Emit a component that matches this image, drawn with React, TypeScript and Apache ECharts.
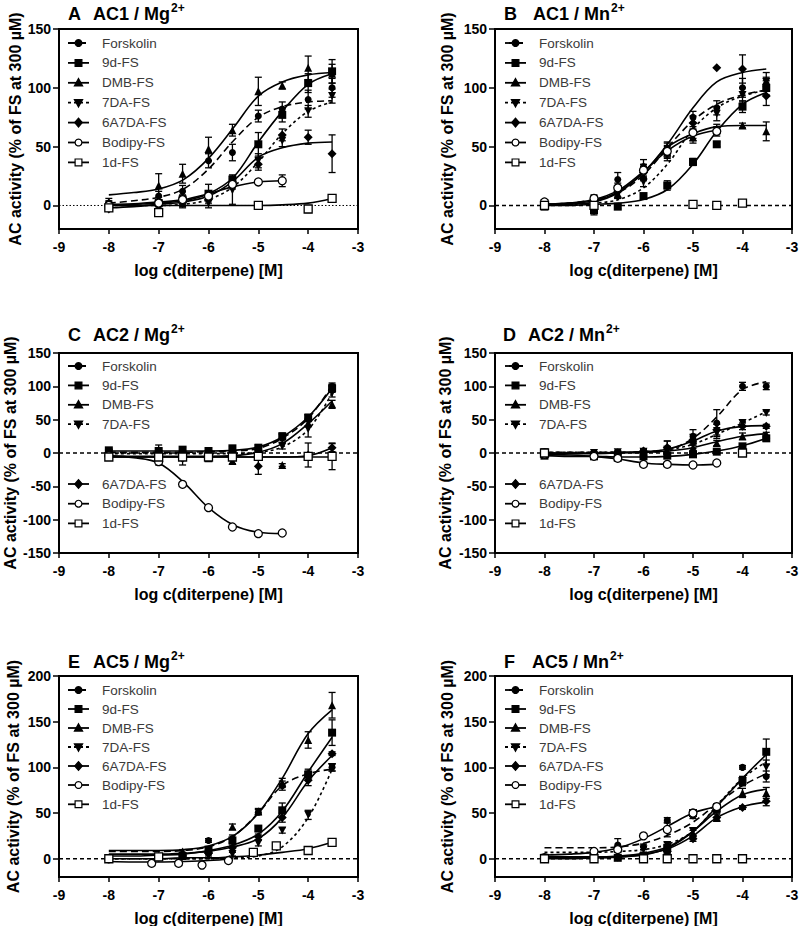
import React, { useEffect, useRef } from 'react';
import * as echarts from 'echarts';

const FONT = '"Liberation Sans", Arial, Helvetica, sans-serif';

const NAMES = ['Forskolin', '9d-FS', 'DMB-FS', '7DA-FS', '6A7DA-FS', 'Bodipy-FS', '1d-FS'];
const X = [-8, -7, -6.52, -6, -5.52, -5, -4.52, -4, -3.52];
const CX = [-8, -7.5, -7, -6.5, -6, -5.5, -5, -4.52, -4, -3.52];
const X_E_BODIPY = [-8, -7.14, -6.6, -6.13, -5.6];
const X_E_1D = [-8, -7, -5.1, -4.64, -4, -3.52];
const X_LABEL = 'log c(diterpene) [M]';
const Y_LABEL = 'AC activity (% of FS at 300 µM)';
const Y_TICKS_AB = [0, 50, 100, 150];
const Y_TICKS_CD = [-150, -100, -50, 0, 50, 100, 150];
const Y_TICKS_EF = [0, 50, 100, 150, 200];

type Arr = (number | null)[];
const N: Arr = [null, null, null, null, null, null, null, null, null, null];

// Panel A  AC1 / Mg2+
const ptsA: Arr[] = [
  [2, 8, 12, 38, 45, 76, 82, 90, 100],
  [-2, 2, 5, 10, 22, 52, 77, 104, 114],
  [3, 17, 27, 48, 64, 97, 102, 117, 112],
  [0, -1, 2, 2, 13, 38, 55, 80, 93],
  [-3, 0, 3, 5, 20, 35, 60, 58, 44],
  [0, 2, 5, 8, 18, 20, 21, null, null],
  [-2, -6, null, null, null, 0, null, -3, 6],
];
const errA: number[][] = [
  [2, 4, 5, 6, 7, 5, 6, 8, 8],
  [2, 3, 4, 8, 4, 10, 6, 8, 10],
  [3, 10, 8, 10, 5, 12, 3, 10, 8],
  [2, 3, 3, 4, 12, 6, 5, 5, 6],
  [2, 4, 5, 5, 3, 5, 5, 6, 16],
  [2, 3, 3, 4, 4, 2, 5, 0, 0],
  [2, 3, 0, 0, 0, 1, 0, 3, 1],
];
const crvA: Arr[] = [
  [2, 4, 7, 14, 31, 55, 75, 84, 88, 89],
  [0, 1, 2, 4, 10, 24, 54, 80, 103, 112],
  [9, 11, 14, 22, 40, 66, 93, 105, 111, 113],
  [0, 0, 0, 1, 5, 16, 37, 61, 80, 88],
  [-2, -1, 1, 3, 8, 21, 41, 49, 53, 54],
  [1, 1.5, 3, 5, 10, 16, 20, 21, null, null],
  [0, 0, 0, 0, 0, 0, 0, 0.5, 2, 6],
];

// Panel B  AC1 / Mn2+
const ptsB: Arr[] = [
  [2, 5, 22, 33, 48, 75, 83, 100, 103],
  [-1, -4, -1, 8, 17, 37, 52, 84, 100],
  [1, 5, 10, 25, 45, 58, 65, 68, 63],
  [2, 3, 10, 20, 43, 60, 78, 94, 105],
  [1, 3, 12, 28, 48, 70, 117, 116, 93],
  [3, 6, 15, 30, 46, 62, 63, null, null],
  [0, 0, null, null, null, 1, 0, 2, null],
];
const errB: number[][] = [
  [2, 3, 6, 6, 6, 5, 6, 8, 6],
  [2, 4, 2, 2, 4, 3, 2, 5, 6],
  [2, 3, 4, 4, 5, 5, 4, 2, 8],
  [2, 3, 4, 4, 5, 5, 6, 6, 8],
  [2, 3, 5, 5, 5, 6, 0, 12, 8],
  [2, 3, 4, 5, 5, 5, 4, 0, 0],
  [0, 0, 0, 0, 0, 0, 0, 0, 0],
];
const crvB: Arr[] = [
  [1, 2, 5, 11, 26, 50, 72, 86, 94, 98],
  [0, 0, 1, 2, 5, 14, 35, 63, 86, 96],
  [1, 2, 4, 12, 28, 50, 61, 67, 68, 68],
  [1, 1, 2, 5, 15, 36, 65, 83, 93, 98],
  [0, 1, 3, 11, 28, 53, 83, 105, 113, 116],
  [1, 2, 5, 13, 29, 47, 59, 64, null, null],
  N,
];

// Panel C  AC2 / Mg2+
const ptsC: Arr[] = [
  [2, 0, 1, 2, 3, 5, 22, 52, 100],
  [4, 3, 5, 3, 7, 8, 25, 53, 97],
  [-3, -5, -5, -8, -12, -3, -18, 45, 73],
  [0, -2, -3, -2, -2, -1, 10, 36, 90],
  [-5, -3, -8, -6, -7, -20, null, -3, 8],
  [-4, -13, -47, -82, -111, -121, -120, null, null],
  [-6, -6, -6, -6, -6, -5, null, -5, -5],
];
const errC: number[][] = [
  [3, 3, 3, 3, 3, 4, 6, 5, 5],
  [3, 3, 3, 3, 3, 4, 5, 5, 6],
  [3, 4, 4, 4, 4, 5, 2, 6, 6],
  [3, 3, 3, 3, 3, 3, 4, 12, 6],
  [3, 15, 10, 6, 3, 12, 0, 18, 6],
  [0, 0, 0, 0, 0, 0, 0, 0, 0],
  [2, 2, 2, 2, 2, 2, 0, 3, 20],
];
const crvC: Arr[] = [
  [1, 1, 1, 1, 2, 3, 7, 22, 52, 101],
  [3, 3, 3, 3, 3, 4, 9, 24, 54, 97],
  [-5, -5, -5, -5, -5, -4, 1, 14, 44, 78],
  [-1, -1, -1, -1, -1, -1, 1, 9, 35, 90],
  [-6, -6, -6, -6, -6, -6, -6, -6, -4, 8],
  [-4, -7, -15, -44, -82, -108, -119, -121, null, null],
  [-6, -6, -6, -6, -6, -6, -6, -6, -6, -6],
];

// Panel D  AC2 / Mn2+
const ptsD: Arr[] = [
  [2, 0, 1, 3, 8, 25, 45, 100, 100],
  [-4, -5, -7, -5, -4, -2, 2, 10, 22],
  [-1, -2, 0, 2, 3, 8, 15, 25, 28],
  [1, 0, 1, 2, 5, 12, 30, 45, 60],
  [0, -1, 0, 3, 8, 20, 35, 40, 40],
  [-2, -5, -8, -17, -17, -18, -15, null, null],
  [0, null, null, null, null, null, null, 0, null],
];
const errD: number[][] = [
  [2, 2, 2, 3, 10, 10, 20, 6, 5],
  [2, 2, 2, 2, 2, 2, 2, 3, 3],
  [2, 2, 2, 2, 3, 4, 4, 5, 3],
  [2, 2, 2, 3, 4, 5, 8, 5, 3],
  [2, 2, 2, 3, 10, 8, 8, 5, 3],
  [0, 0, 0, 0, 0, 0, 0, 0, 0],
  [0, 0, 0, 0, 0, 0, 0, 0, 0],
];
const crvD: Arr[] = [
  [1, 1, 1, 1, 1, 5, 22, 54, 95, 107],
  [-4, -5, -5, -6, -6, -5, -2, 3, 11, 22],
  [-1, -1, -1, 0, 1, 3, 8, 17, 25, 29],
  [1, 1, 1, 1, 2, 5, 13, 28, 45, 62],
  [0, 0, 0, 1, 2, 6, 18, 33, 40, 41],
  [-2, -3, -5, -9, -15, -17, -18, -17, null, null],
  N,
];

// Panel E  AC5 / Mg2+
const ptsE: Arr[] = [
  [1, 2, 5, 20, 22, 51, 80, 93, 100],
  [0, 2, 3, 10, 20, 33, 53, 92, 138],
  [1, 3, 8, 10, 35, 52, 83, 130, 168],
  [0, 1, 2, 3, 5, 17, 31, 48, 100],
  [0, 2, 3, 6, 12, 24, 45, 86, 115],
  [0, -5, -5, -7, -2],
  [0, 2, 7, 14, 9, 18],
];
const errE: number[][] = [
  [2, 2, 2, 2, 4, 3, 5, 3, 4],
  [2, 2, 2, 2, 3, 3, 8, 6, 14],
  [2, 2, 2, 3, 3, 3, 5, 9, 14],
  [2, 2, 2, 2, 2, 3, 3, 5, 4],
  [2, 2, 2, 3, 3, 3, 5, 6, 2],
  [0, 0, 0, 0, 0],
  [0, 0, 0, 0, 0, 2],
];
const crvE: Arr[] = [
  [8, 8, 8, 9, 13, 25, 50, 80, 93, 98],
  [3, 3, 4, 5, 9, 15, 27, 52, 95, 133],
  [9, 9, 9, 10, 14, 25, 50, 88, 137, 163],
  [0, 0, 0, 0, 0, 1, 3, 13, 45, 98],
  [5, 5, 5, 6, 8, 13, 22, 45, 85, 113],
  [-3, -3.5, -3.5, -3, -2, 0, null, null, null, null],
  [0, 0, 0, 1, 1, 2, 4, 7, 11, 18],
];

// Panel F  AC5 / Mn2+
const ptsF: Arr[] = [
  [1, 2, 15, 13, 42, 47, 57, 100, 90],
  [0, 1, 1, 3, 12, 50, 55, 85, 117],
  [1, 2, 5, 5, 10, 28, 45, 72, 72],
  [1, 2, 10, 10, 15, 30, 55, 85, 100],
  [0, 0, 2, 3, 8, 22, 45, 56, 63],
  [1, 8, 10, 25, 32, 50, 57, null, null],
  [0, 0, null, 0, 0, 0, 0, 0, null],
];
const errF: number[][] = [
  [2, 2, 7, 3, 3, 3, 3, 2, 6],
  [2, 2, 2, 2, 2, 3, 4, 5, 14],
  [2, 2, 2, 2, 3, 3, 4, 5, 6],
  [2, 2, 3, 3, 3, 4, 4, 5, 8],
  [2, 2, 2, 2, 2, 3, 4, 2, 5],
  [1, 2, 2, 2, 8, 3, 3, 0, 0],
  [0, 0, 0, 0, 0, 0, 0, 0, 0],
];
const crvF: Arr[] = [
  [12, 12, 12, 13, 17, 26, 40, 60, 80, 93],
  [0, 0, 1, 2, 4, 12, 30, 57, 88, 114],
  [2, 2, 2, 3, 6, 13, 30, 52, 70, 76],
  [7, 7, 7, 8, 10, 16, 30, 58, 88, 106],
  [1, 1, 1, 2, 5, 11, 25, 45, 57, 62],
  [4, 5, 7, 12, 22, 36, 50, 57, null, null],
  N,
];

const PTS = [ptsA, ptsB, ptsC, ptsD, ptsE, ptsF];
const ERR = [errA, errB, errC, errD, errE, errF];
const CRV = [crvA, crvB, crvC, crvD, crvE, crvF];
const XS_E = [X, X, X, X, X, X_E_BODIPY, X_E_1D];

// layout / styling
const ROWS_AB = [43, 62.9, 82.8, 102.7, 122.6, 142.5, 162.4];
const ROWS_CD = [366, 385.4, 404.8, 424.2, 484, 503.7, 523.4];
const ROWS_EF = [690, 709, 728, 747, 766, 785, 804.3];

const PANELS = [
  { letter: 'A', title: 'AC1 / Mg', grid: { left: 59, top: 29, width: 299, height: 200 }, yMin: -20, yMax: 150, ticks: Y_TICKS_AB, zeroDotted: true, lx: 68, rows: ROWS_AB, tx: [68, 93], ty: 14, nameGap: 36 },
  { letter: 'B', title: 'AC1 / Mn', grid: { left: 495, top: 29, width: 297, height: 200 }, yMin: -20, yMax: 150, ticks: Y_TICKS_AB, zeroDotted: false, lx: 505, rows: ROWS_AB, tx: [504, 533], ty: 14, nameGap: 40 },
  { letter: 'C', title: 'AC2 / Mg', grid: { left: 59, top: 353, width: 299, height: 200 }, yMin: -150, yMax: 150, ticks: Y_TICKS_CD, zeroDotted: false, lx: 68, rows: ROWS_CD, tx: [68, 93], ty: 335, nameGap: 41 },
  { letter: 'D', title: 'AC2 / Mn', grid: { left: 495, top: 353, width: 297, height: 200 }, yMin: -150, yMax: 150, ticks: Y_TICKS_CD, zeroDotted: false, lx: 505, rows: ROWS_CD, tx: [503, 528], ty: 335, nameGap: 42 },
  { letter: 'E', title: 'AC5 / Mg', grid: { left: 59, top: 676, width: 299, height: 201 }, yMin: -20, yMax: 200, ticks: Y_TICKS_EF, zeroDotted: false, lx: 68, rows: ROWS_EF, tx: [68, 93], ty: 662, nameGap: 38 },
  { letter: 'F', title: 'AC5 / Mn', grid: { left: 495, top: 676, width: 297, height: 201 }, yMin: -20, yMax: 200, ticks: Y_TICKS_EF, zeroDotted: false, lx: 505, rows: ROWS_EF, tx: [504, 532], ty: 662, nameGap: 40 },
];

const STYLES = [
  { symbol: 'circle', size: 7, fill: '#000', rotate: 0, dash: [7, 4] as any, shape: 'circle' },
  { symbol: 'rect', size: 8, fill: '#000', rotate: 0, dash: 'solid' as any, shape: 'rect' },
  { symbol: 'triangle', size: 8, fill: '#000', rotate: 0, dash: 'solid' as any, shape: 'tri' },
  { symbol: 'triangle', size: 8, fill: '#000', rotate: 180, dash: [3, 3] as any, shape: 'tridown' },
  { symbol: 'diamond', size: 9, fill: '#000', rotate: 0, dash: 'solid' as any, shape: 'diamond' },
  { symbol: 'circle', size: 8, fill: '#fff', rotate: 0, dash: 'solid' as any, shape: 'circle' },
  { symbol: 'rect', size: 8, fill: '#fff', rotate: 0, dash: 'solid' as any, shape: 'rect' },
];

function renderErr(params: any, api: any) {
  const x = api.value(0);
  const y = api.value(1);
  const e = api.value(2);
  const top = api.coord([x, y + e]);
  const bot = api.coord([x, y - e]);
  const c = 3.5;
  const st = { stroke: '#000', lineWidth: 1.3 };
  return {
    type: 'group',
    children: [
      { type: 'line', shape: { x1: top[0], y1: top[1], x2: bot[0], y2: bot[1] }, style: st },
      { type: 'line', shape: { x1: top[0] - c, y1: top[1], x2: top[0] + c, y2: top[1] }, style: st },
      { type: 'line', shape: { x1: bot[0] - c, y1: bot[1], x2: bot[0] + c, y2: bot[1] }, style: st },
    ],
  };
}

function legendSymbol(shape: string, cx: number, cy: number, fill: string) {
  const style = { fill, stroke: '#000', lineWidth: 1.2 };
  if (shape === 'circle') return { type: 'circle', shape: { cx, cy, r: 3.4 }, style };
  if (shape === 'rect') return { type: 'rect', shape: { x: cx - 3.4, y: cy - 3.4, width: 6.8, height: 6.8 }, style };
  if (shape === 'tri') return { type: 'polygon', shape: { points: [[cx, cy - 4.3], [cx + 4.1, cy + 3.1], [cx - 4.1, cy + 3.1]] }, style };
  if (shape === 'tridown') return { type: 'polygon', shape: { points: [[cx, cy + 4.3], [cx + 4.1, cy - 3.1], [cx - 4.1, cy - 3.1]] }, style };
  return { type: 'polygon', shape: { points: [[cx, cy - 4.4], [cx + 3.8, cy], [cx, cy + 4.4], [cx - 3.8, cy]] }, style };
}

function buildOption() {
  const grid: any[] = [];
  const xAxis: any[] = [];
  const yAxis: any[] = [];
  const series: any[] = [];
  const graphic: any[] = [];

  PANELS.forEach((p, i) => {
    grid.push({ ...p.grid, show: true, borderColor: '#000', borderWidth: 2, backgroundColor: 'transparent', containLabel: false, outerBoundsMode: 'none' });
    xAxis.push({
      type: 'value', gridIndex: i, min: -9, max: -3, interval: 1,
      name: X_LABEL, nameLocation: 'middle', nameGap: 33,
      nameTextStyle: { fontSize: 16, fontWeight: 'bold', color: '#000', fontFamily: FONT },
      axisLine: { show: true, onZero: false, lineStyle: { color: '#000', width: 2 } },
      axisTick: { show: true, length: 5, lineStyle: { color: '#000', width: 1.5 } },
      axisLabel: { fontSize: 14, fontWeight: 'bold', color: '#000', margin: 11, fontFamily: FONT },
      splitLine: { show: false },
    });
    yAxis.push({
      type: 'value', gridIndex: i, min: p.yMin, max: p.yMax,
      name: Y_LABEL, nameLocation: 'middle', nameGap: p.nameGap,
      nameTextStyle: { fontSize: 16, fontWeight: 'bold', color: '#000', fontFamily: FONT },
      axisLine: { show: true, onZero: false, lineStyle: { color: '#000', width: 2 } },
      axisTick: { show: true, length: 6, customValues: p.ticks, lineStyle: { color: '#000', width: 1.5 } },
      axisLabel: { fontSize: 14, fontWeight: 'bold', color: '#000', margin: 8, fontFamily: FONT, customValues: p.ticks },
      splitLine: { show: false },
    });
    // zero reference line
    series.push({
      type: 'line', xAxisIndex: i, yAxisIndex: i, data: [[-9, 0], [-3, 0]], symbol: 'none', silent: true, z: 1,
      lineStyle: p.zeroDotted ? { color: '#000', width: 1, type: [1.5, 2] } : { color: '#000', width: 1.6, type: [4, 3] },
    });
    const errData: any[] = [];
    for (let s = 0; s < 7; s++) {
      const st = STYLES[s];
      const xs = i === 4 ? XS_E[s] : X;
      const pts = PTS[i][s];
      const errs = ERR[i][s];
      const crv = CRV[i][s];
      const curve: number[][] = [];
      CX.forEach((x, k) => { if (crv[k] !== null && crv[k] !== undefined) curve.push([x, crv[k] as number]); });
      if (curve.length) {
        series.push({
          type: 'line', name: NAMES[s], xAxisIndex: i, yAxisIndex: i, data: curve, smooth: 0.35,
          symbol: 'none', silent: true, z: 2,
          lineStyle: { color: '#000', width: 1.6, type: st.dash },
        });
      }
      const pdata: number[][] = [];
      xs.forEach((x, k) => {
        const v = pts[k];
        if (v !== null && v !== undefined) {
          pdata.push([x, v]);
          const e = errs[k] || 0;
          if (e > 1.5) errData.push([x, v, e]);
        }
      });
      series.push({
        type: 'scatter', name: NAMES[s], xAxisIndex: i, yAxisIndex: i, data: pdata,
        symbol: st.symbol, symbolSize: st.size, symbolRotate: st.rotate, silent: true, z: 4,
        itemStyle: { color: st.fill, borderColor: '#000', borderWidth: st.fill === '#fff' ? 1.3 : 0, opacity: 1 },
      });
    }
    series.push({
      type: 'custom', xAxisIndex: i, yAxisIndex: i, data: errData, renderItem: renderErr,
      encode: { x: 0, y: 1 }, silent: true, z: 3,
    });

    // title
    graphic.push({ type: 'text', x: p.tx[0], y: p.ty, style: { text: p.letter, fill: '#000', fontSize: 18, fontWeight: 'bold', fontFamily: FONT, align: 'left', verticalAlign: 'middle' } });
    graphic.push({ type: 'text', x: p.tx[1], y: p.ty, style: { text: p.title, fill: '#000', fontSize: 18, fontWeight: 'bold', fontFamily: FONT, align: 'left', verticalAlign: 'middle' } });
    graphic.push({ type: 'text', x: p.tx[1] + 78, y: p.ty - 6, style: { text: '2+', fill: '#000', fontSize: 12, fontWeight: 'bold', fontFamily: FONT, align: 'left', verticalAlign: 'middle' } });

    // legend
    for (let s = 0; s < 7; s++) {
      const st = STYLES[s];
      const y = p.rows[s];
      const lineDash = st.dash === 'solid' ? null : st.dash;
      graphic.push({ type: 'line', shape: { x1: p.lx, y1: y, x2: p.lx + 21, y2: y }, style: { stroke: '#000', lineWidth: 1.8, lineDash } });
      graphic.push(legendSymbol(st.shape, p.lx + 10.5, y, st.fill));
      graphic.push({ type: 'text', x: p.lx + 34, y, style: { text: NAMES[s], fill: '#3a3a3a', fontSize: 13.5, fontFamily: FONT, align: 'left', verticalAlign: 'middle' } });
    }
  });

  return { animation: false, backgroundColor: '#fff', grid, xAxis, yAxis, series, graphic };
}

export default function App() {
  const ref = useRef<HTMLDivElement>(null);
  useEffect(() => {
    const chart = echarts.init(ref.current as HTMLDivElement, undefined, { renderer: 'svg' });
    chart.setOption(buildOption() as any);
    return () => chart.dispose();
  }, []);
  return <div ref={ref} style={{ position: 'absolute', left: 0, top: 0, width: 800, height: 926, background: '#fff' }} />;
}
